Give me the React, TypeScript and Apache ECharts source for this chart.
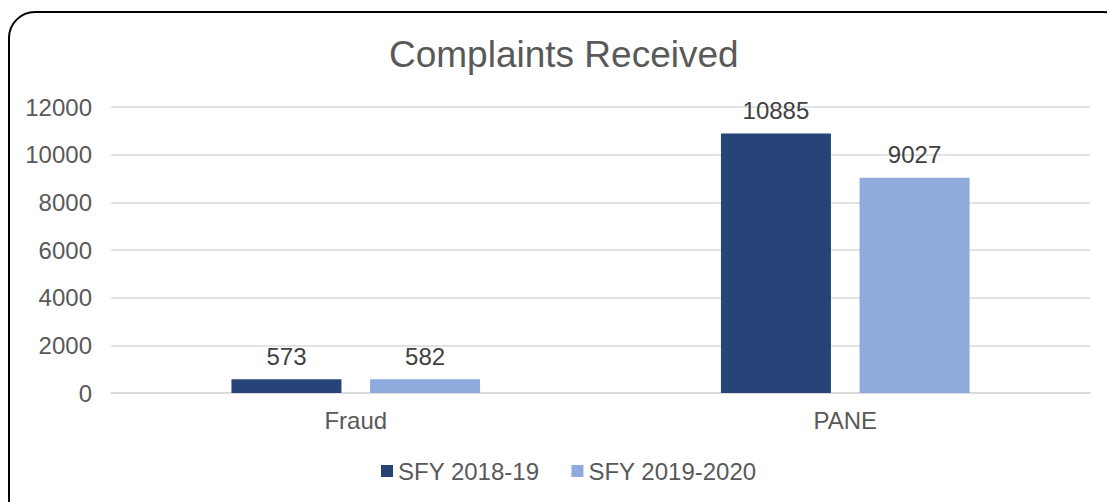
import React, { useEffect, useRef } from "react";
import * as echarts from "echarts";

const categories = ["Fraud", "PANE"];
const seriesNames = ["SFY 2018-19", "SFY 2019-2020"];
const sfy2018 = [573, 10885];
const sfy2019 = [582, 9027];
const colors = ["#264478", "#8FAADC"];

export default function App() {
  const ref = useRef<HTMLDivElement>(null);
  useEffect(() => {
    const chart = echarts.init(ref.current!, null, { renderer: "svg" });
    const font = "Liberation Sans, Arial, sans-serif";
    chart.setOption({
      animation: false,
      textStyle: { fontFamily: font },
      title: {
        text: "Complaints Received",
        left: 384,
        top: 31,
        textStyle: { fontSize: 37, fontWeight: "normal", color: "#595959", fontFamily: font },
      },
      legend: {
        bottom: 14,
        left: 376,
        itemWidth: 12,
        itemHeight: 12,
        itemGap: 32,
        icon: "rect",
        textStyle: { fontSize: 24, color: "#595959", fontFamily: font },
        data: seriesNames,
      },
      grid: { left: 111, right: 17, top: 107, bottom: 109, containLabel: false },
      xAxis: {
        type: "category",
        data: categories,
        axisLine: { lineStyle: { color: "#d9d9d9", width: 1.5 } },
        axisTick: { show: false },
        axisLabel: { fontSize: 24, color: "#595959", margin: 15, fontFamily: font },
      },
      yAxis: {
        type: "value",
        min: 0,
        max: 12000,
        interval: 2000,
        axisLine: { show: false },
        axisTick: { show: false },
        splitLine: { lineStyle: { color: "#d9d9d9", width: 1.5 } },
        axisLabel: { fontSize: 24, color: "#595959", margin: 19, fontFamily: font, formatter: (v: number) => String(v) },
      },
      series: [
        {
          name: seriesNames[0],
          type: "bar",
          data: sfy2018,
          barWidth: 110,
          barGap: "26%",
          itemStyle: { color: colors[0] },
          label: { show: true, position: "top", distance: 11, fontSize: 24, color: "#404040", fontFamily: font },
        },
        {
          name: seriesNames[1],
          type: "bar",
          data: sfy2019,
          barWidth: 110,
          barGap: "26%",
          itemStyle: { color: colors[1] },
          label: { show: true, position: "top", distance: 11, fontSize: 24, color: "#404040", fontFamily: font },
        },
      ],
      graphic: [
        {
          type: "rect",
          shape: { x: 9, y: 12, width: 1120, height: 520, r: 26 },
          style: { fill: "none", stroke: "#000", lineWidth: 2 },
          silent: true,
        },
      ],
    });
    return () => chart.dispose();
  }, []);
  return (
    <div
      ref={ref}
      style={{ position: "fixed", left: 0, top: 0, width: 1107, height: 502, background: "#fff" }}
    />
  );
}
